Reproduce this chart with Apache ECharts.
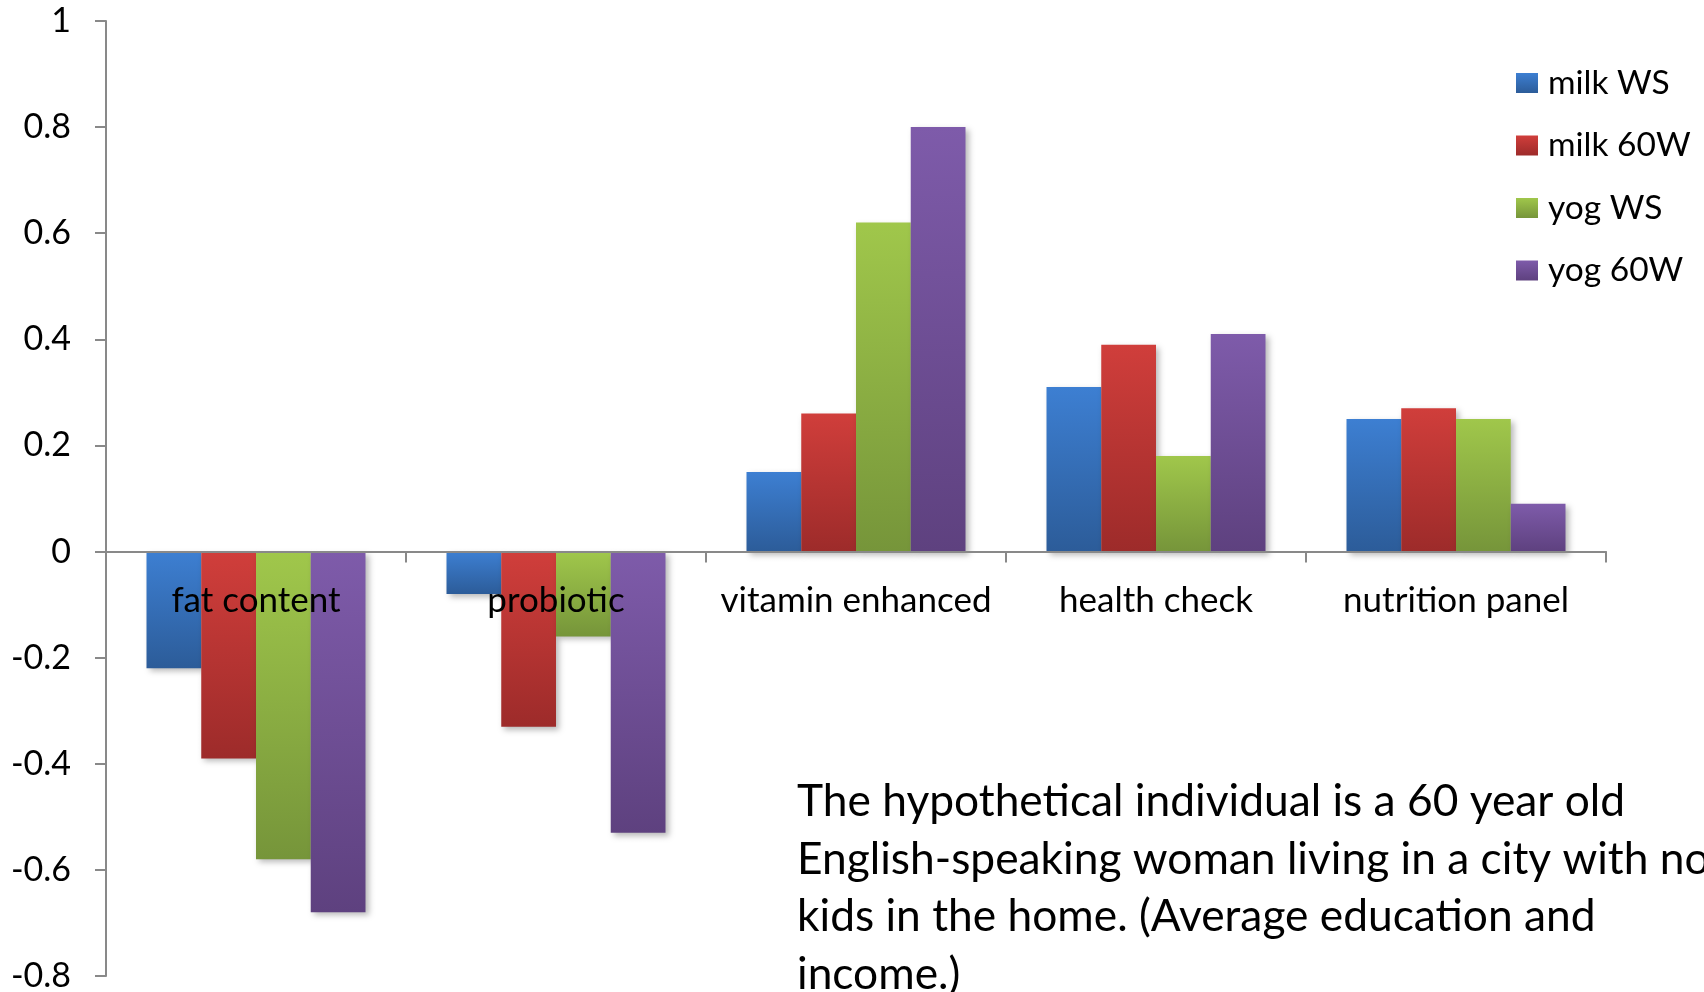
<!DOCTYPE html>
<html>
<head>
<meta charset="utf-8">
<script src="https://cdn.jsdelivr.net/npm/echarts@6/dist/echarts.min.js"></script>
<style>
  html, body { margin: 0; padding: 0; background: #ffffff; }
  #chart { width: 1704px; height: 992px; }
</style>
</head>
<body>
<div id="chart"></div>
<script>
// Categories and series values
const categories = ['fat content', 'probiotic', 'vitamin enhanced', 'health check', 'nutrition panel'];
const seriesNames = ['milk WS', 'milk 60W', 'yog WS', 'yog 60W'];
const milkWS  = [-0.22, -0.08, 0.15, 0.31, 0.25];
const milk60W = [-0.39, -0.33, 0.26, 0.39, 0.27];
const yogWS   = [-0.58, -0.16, 0.62, 0.18, 0.25];
const yog60W  = [-0.68, -0.53, 0.80, 0.41, 0.09];
const noteLines = [
  'The hypothetical individual is a 60 year old',
  'English-speaking woman living in a city with no',
  'kids in the home. (Average education and',
  'income.)'
];

const FONT = 'Lato, "Noto Sans", sans-serif';
const AXIS_COLOR = '#898989';

// value axis range
const Y_MIN = -0.8, Y_MAX = 1, Y_STEP = 0.2;

// plot area
const CHART_H = 992;
const GRID = { left: 106, right: 98, top: 21, bottom: 16 };
const plotH = CHART_H - GRID.top - GRID.bottom;
// lift the category axis from the bottom edge up to the zero line
const zeroLift = plotH * (0 - Y_MIN) / (Y_MAX - Y_MIN);

// top/bottom gradient stops per series
const gradients = [
  ['#3d7fd2', '#2c5c99'],
  ['#d03e3b', '#9d2b2a'],
  ['#a0c74b', '#76953a'],
  ['#7e5baa', '#5e417f']
];

function grad(c) {
  return new echarts.graphic.LinearGradient(0, 0, 0, 1, [
    { offset: 0, color: c[0] },
    { offset: 1, color: c[1] }
  ]);
}

const values = [milkWS, milk60W, yogWS, yog60W];

const chart = echarts.init(document.getElementById('chart'), null, { renderer: 'canvas' });

chart.setOption({
  backgroundColor: '#ffffff',
  animation: false,
  grid: Object.assign({ containLabel: false, outerBoundsMode: 'none' }, GRID),
  legend: {
    orient: 'vertical',
    left: 1516,
    top: 66,
    padding: 0,
    icon: 'rect',
    itemWidth: 22,
    itemHeight: 20,
    itemGap: 28.5,
    textStyle: { fontFamily: FONT, fontSize: 33.5, color: '#000000', padding: [0, 0, 0, 5] },
    data: seriesNames
  },
  xAxis: {
    type: 'category',
    data: categories,
    position: 'bottom',
    offset: -zeroLift,
    z: 10,
    axisLine: { onZero: false, lineStyle: { color: AXIS_COLOR, width: 2 } },
    axisTick: { show: true, inside: false, interval: 0, length: 11, lineStyle: { color: AXIS_COLOR, width: 2 } },
    axisLabel: { interval: 0, margin: 32, fontFamily: FONT, fontSize: 35, color: '#000000', hideOverlap: false },
    splitLine: { show: false }
  },
  yAxis: {
    type: 'value',
    min: Y_MIN,
    max: Y_MAX,
    interval: Y_STEP,
    axisLine: { show: true, lineStyle: { color: AXIS_COLOR, width: 2 } },
    axisTick: { show: true, inside: false, length: 11, lineStyle: { color: AXIS_COLOR, width: 2 } },
    axisLabel: {
      margin: 35,
      fontFamily: FONT,
      fontSize: 34,
      color: '#000000',
      formatter: v => String(Math.round(v * 10) / 10)
    },
    splitLine: { show: false }
  },
  series: seriesNames.map((name, i) => ({
    name: name,
    type: 'bar',
    data: values[i],
    barGap: '0%',
    barCategoryGap: '27%',
    itemStyle: {
      color: grad(gradients[i]),
      shadowColor: 'rgba(0,0,0,0.28)',
      shadowBlur: 6,
      shadowOffsetX: 3,
      shadowOffsetY: 3
    }
  })),
  graphic: [{
    type: 'text',
    left: 797,
    top: 773,
    style: {
      text: noteLines.join('\n'),
      fontFamily: FONT,
      fontSize: 44.3,
      lineHeight: 57.5,
      fill: '#000000'
    }
  }]
});
</script>
</body>
</html>
